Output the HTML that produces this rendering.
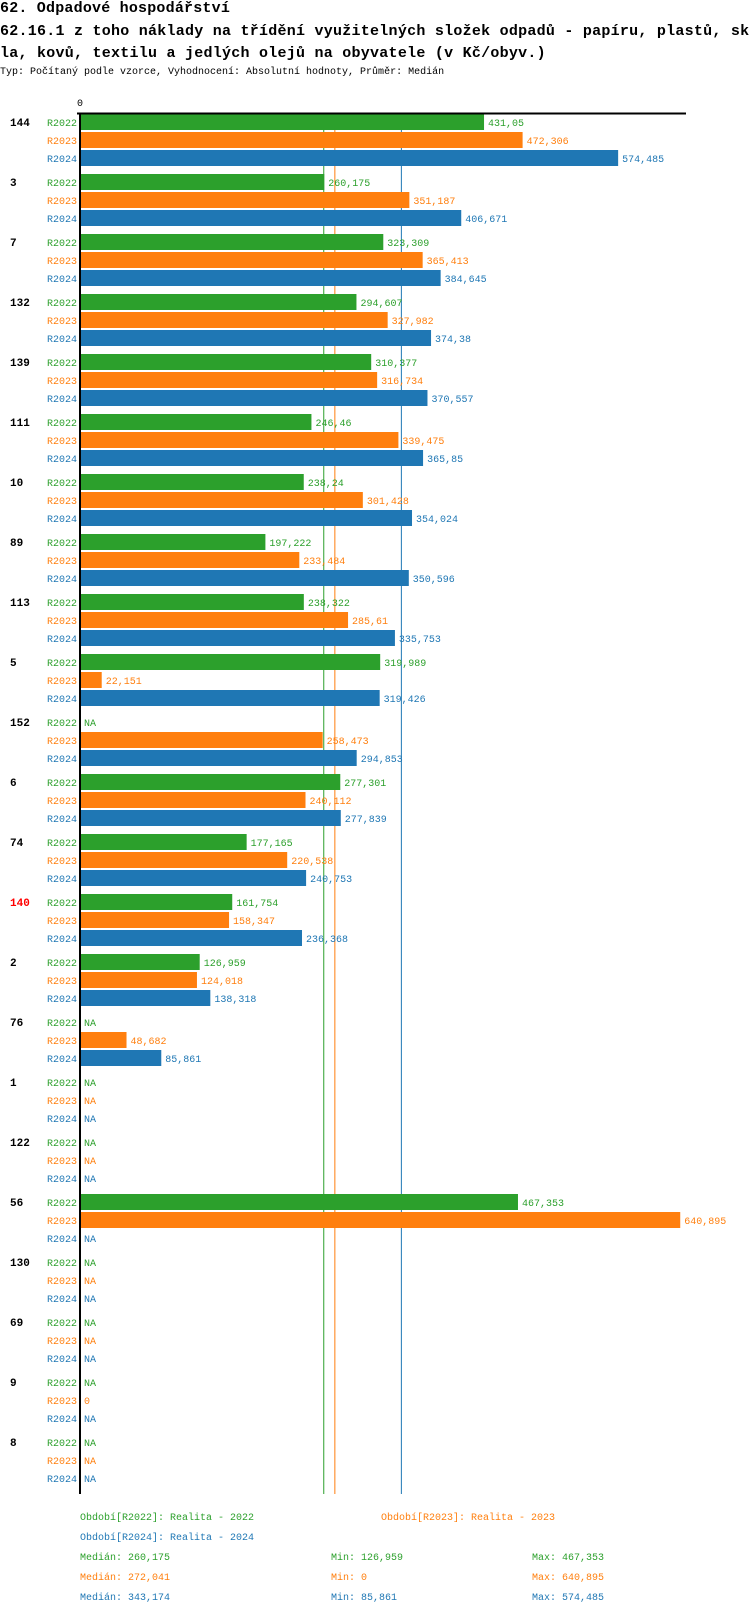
<!DOCTYPE html>
<html><head><meta charset="utf-8"><style>
body{margin:0;background:#fff;width:750px;height:1614px;overflow:hidden;font-family:"Liberation Mono","DejaVu Sans Mono",monospace}
.t{position:absolute;left:0;white-space:nowrap;color:#000}
</style></head><body>
<div class="t" style="top:-1px;font-size:15px;font-weight:bold;line-height:20px;letter-spacing:0.2px">62. Odpadové hospodářství</div>
<div class="t" style="top:21px;font-size:15px;font-weight:bold;line-height:21.5px;white-space:normal;width:750px;word-break:break-all;letter-spacing:0.25px">62.16.1 z toho náklady na třídění využitelných složek odpadů - papíru, plastů, skla, kovů, textilu a jedlých olejů na obyvatele (v Kč/obyv.)</div>
<div class="t" style="top:66px;font-size:10px;line-height:14px">Typ: Počítaný podle vzorce, Vyhodnocení: Absolutní hodnoty, Průměr: Medián</div>
<svg id="c" width="750" height="1614" style="position:absolute;left:0;top:0" font-family="Liberation Mono, DejaVu Sans Mono, monospace" font-size="10"></svg>
<script>
const categories=["144","3","7","132","139","111","10","89","113","5","152","6","74","140","2","76","1","122","56","130","69","9","8"];
const r2022=[431.05,260.175,323.309,294.607,310.377,246.46,238.24,197.222,238.322,319.989,null,277.301,177.165,161.754,126.959,null,null,null,467.353,null,null,null,null];
const r2023=[472.306,351.187,365.413,327.982,316.734,339.475,301.428,233.484,285.61,22.151,258.473,240.112,220.538,158.347,124.018,48.682,null,null,640.895,null,null,0,null];
const r2024=[574.485,406.671,384.645,374.38,370.557,365.85,354.024,350.596,335.753,319.426,294.853,277.839,240.753,236.368,138.318,85.861,null,null,null,null,null,null,null];
const seriesNames=["R2022","R2023","R2024"];
const medians=[260.175,272.041,343.174];
const mins=["126,959","0","85,861"];
const maxs=["467,353","640,895","574,485"];
const highlighted="140";
const colors=["#2ca02c","#ff7f0e","#1f77b4"];
const svg=document.getElementById('c');
const NS="http://www.w3.org/2000/svg";
const x0=81,k=0.935,top0=114,gap=60,rowH=18,barH=16;
const X=v=>x0+v*k;
const Y=(g,s)=>top0+g*gap+s*rowH;
function mk(tag,attrs,txt){const e=document.createElementNS(NS,tag);for(const a in attrs)e.setAttribute(a,attrs[a]);if(txt!==undefined)e.textContent=txt;svg.appendChild(e);return e;}
const fmt=v=>String(v).replace('.',',');
const all=[r2022,r2023,r2024];
const yEnd=1494;
medians.forEach((m,s)=>{
  const l=mk('line',{x1:X(m)-0.5,x2:X(m)-0.5,y1:top0,y2:yEnd,stroke:colors[s],'stroke-width':1});
  
  
});
categories.forEach((c,g)=>{
  const gl=mk('text',{x:10,y:Y(g,0)+12,'font-weight':'bold','font-size':11,fill:c===highlighted?'#ff0000':'#000'},c);
  
  
  all.forEach((ser,s)=>{
    const y=Y(g,s);
    const lab=mk('text',{x:77,y:y+12,'text-anchor':'end',fill:colors[s]},seriesNames[s]);
    
    
    const v=ser[g];
    if(v===null){
      const na=mk('text',{x:84,y:y+12,fill:colors[s]},'NA');
      
      
    }else{
      if(v>0){
        const r=mk('rect',{x:x0,y:y,width:X(v)-x0,height:barH,fill:colors[s]});
        
        
      }
      const t=mk('text',{x:(v>0?X(v)+4:84),y:y+12,fill:colors[s]},fmt(v));
      
      
    }
  });
});
const ax=mk('line',{x1:80,x2:80,y1:top0-1,y2:yEnd,stroke:'#000','stroke-width':2});


const tx=mk('line',{x1:77,x2:686,y1:top0-0.5,y2:top0-0.5,stroke:'#000','stroke-width':2});


const z=mk('text',{x:77,y:106,fill:'#000'},'0');


const leg=[[80,1520,"Období[R2022]: Realita - 2022",0],[381,1520,"Období[R2023]: Realita - 2023",1],[80,1540,"Období[R2024]: Realita - 2024",2]];
leg.forEach(l=>{const e=mk('text',{x:l[0],y:l[1],fill:colors[l[3]]},l[2]);

});
[0,1,2].forEach(s=>{
  const y=1560+s*20;
  const a=mk('text',{x:80,y:y,fill:colors[s]},'Medián: '+fmt(medians[s]));
  
  
  const b=mk('text',{x:331,y:y,fill:colors[s]},'Min: '+mins[s]);
  
  
  const d=mk('text',{x:532,y:y,fill:colors[s]},'Max: '+maxs[s]);
  
  
});
</script>
</body></html>
